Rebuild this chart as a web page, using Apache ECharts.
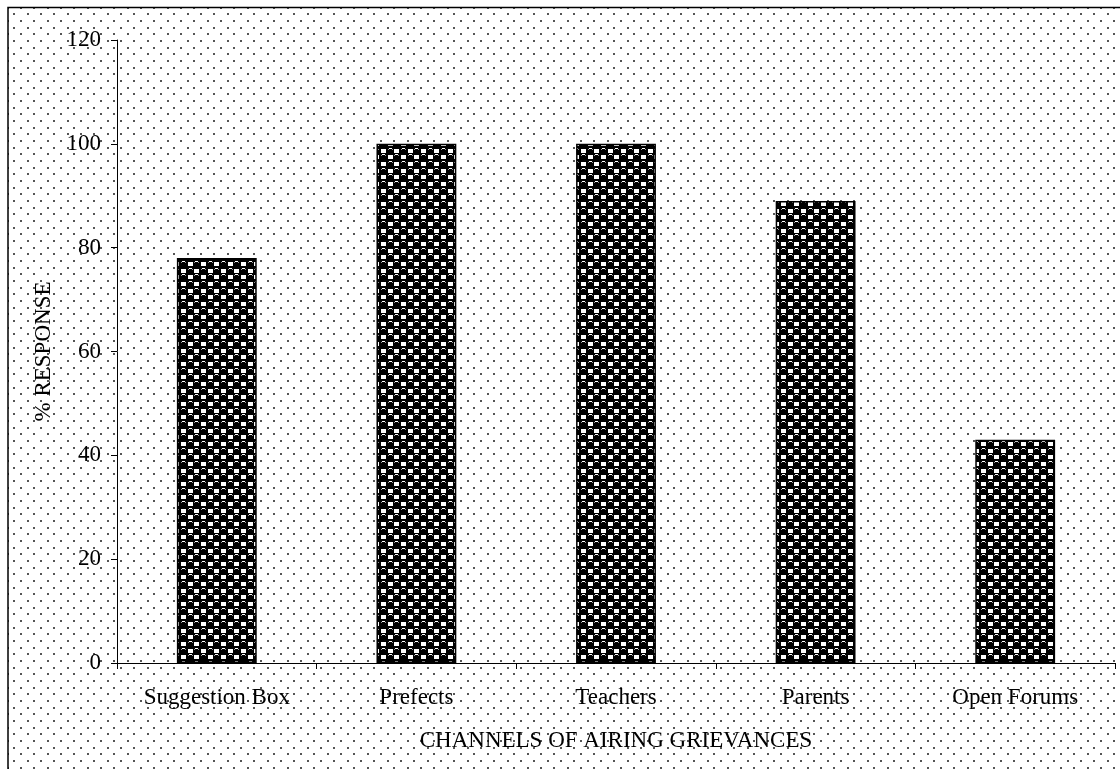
<!DOCTYPE html>
<html><head><meta charset="utf-8">
<script src="https://cdn.jsdelivr.net/npm/echarts@6/dist/echarts.min.js"></script>
<style>html,body{margin:0;padding:0;background:#fff;overflow:hidden}#c{width:1120px;height:769px}</style>
</head><body><div id="c"></div>
<script>
const categories = ['Suggestion Box', 'Prefects', 'Teachers', 'Parents', 'Open Forums'];
const responses = [78, 100, 100, 89, 43];
const yMin = 0, yMax = 120, yStep = 20;
const xTitle = 'CHANNELS OF AIRING GRIEVANCES';
const yTitle = '% RESPONSE';

const FONT = '"Liberation Serif", "Times New Roman", serif';

function dotTile() {
  const c = document.createElement('canvas');
  c.width = 40; c.height = 40;
  const g = c.getContext('2d');
  g.fillStyle = '#fff'; g.fillRect(0, 0, 40, 40);
  g.fillStyle = '#555';
  for (let r = 0; r < 6; r++) {
    const y = Math.round(r * 40 / 6);
    const off = (r % 2) ? 20 / 3 : 0;
    for (let k = 0; k < 3; k++) {
      const x = Math.round(off + k * 40 / 3);
      g.fillRect(x, y, 2, 2);
    }
  }
  return c;
}

function barTile() {
  const c = document.createElement('canvas');
  c.width = 40; c.height = 40;
  const g = c.getContext('2d');
  g.fillStyle = '#000'; g.fillRect(0, 0, 40, 40);
  const s = 40 / 6;
  for (let i = 0; i < 6; i++) {
    for (let j = 0; j < 6; j++) {
      const x0 = Math.round(i * s), y0 = Math.round(j * s);
      if ((i + j) % 2 === 1) {
        g.fillStyle = '#fff';
        g.fillRect(x0 + 1, y0 + 2, 5, 4);
      } else {
        g.fillStyle = '#fff';
        g.fillRect(x0 + 2, y0 + 1, 3, 1);
        g.fillStyle = '#999';
        g.fillRect(x0 + 1, y0 + 2, 1, 1);
        g.fillRect(x0 + 5, y0 + 2, 1, 1);
      }
    }
  }
  return c;
}

const chart = echarts.init(document.getElementById('c'), null, {renderer: 'canvas'});
chart.setOption({
  backgroundColor: '#fff',
  animation: false,
  graphic: [{
    type: 'rect', z: -100, silent: true,
    shape: {x: 8, y: 7, width: 1112, height: 762},
    style: {fill: {image: dotTile(), repeat: 'repeat'}}
  }, {
    type: 'polyline', z: -99, silent: true,
    shape: {points: [[8, 769], [8, 7.5], [1120, 7.5]]},
    style: {stroke: '#000', lineWidth: 1.5, fill: null}
  }],
  grid: {left: 117, right: 5, top: 40, bottom: 106, containLabel: false},
  xAxis: {
    type: 'category', data: categories,
    axisLine: {lineStyle: {color: '#000', width: 1}},
    axisTick: {show: true, alignWithLabel: false, length: 6, lineStyle: {color: '#000'}},
    axisLabel: {interval: 0, margin: 23, color: '#000', fontFamily: FONT, fontSize: 23},
    name: xTitle, nameLocation: 'middle', nameGap: 66,
    nameTextStyle: {color: '#000', fontFamily: FONT, fontSize: 23}
  },
  yAxis: {
    type: 'value', min: yMin, max: yMax, interval: yStep,
    splitLine: {show: false},
    axisLine: {show: true, lineStyle: {color: '#000', width: 1}},
    axisTick: {show: true, length: 6, lineStyle: {color: '#000'}},
    axisLabel: {margin: 16, color: '#000', fontFamily: FONT, fontSize: 23},
    name: yTitle, nameLocation: 'middle', nameGap: 62,
    nameTextStyle: {color: '#000', fontFamily: FONT, fontSize: 23}
  },
  series: [{
    type: 'bar', data: responses, barWidth: '40%',
    itemStyle: {color: {image: barTile(), repeat: 'repeat'}, borderColor: '#000', borderWidth: 1.5}
  }]
});
</script></body></html>
